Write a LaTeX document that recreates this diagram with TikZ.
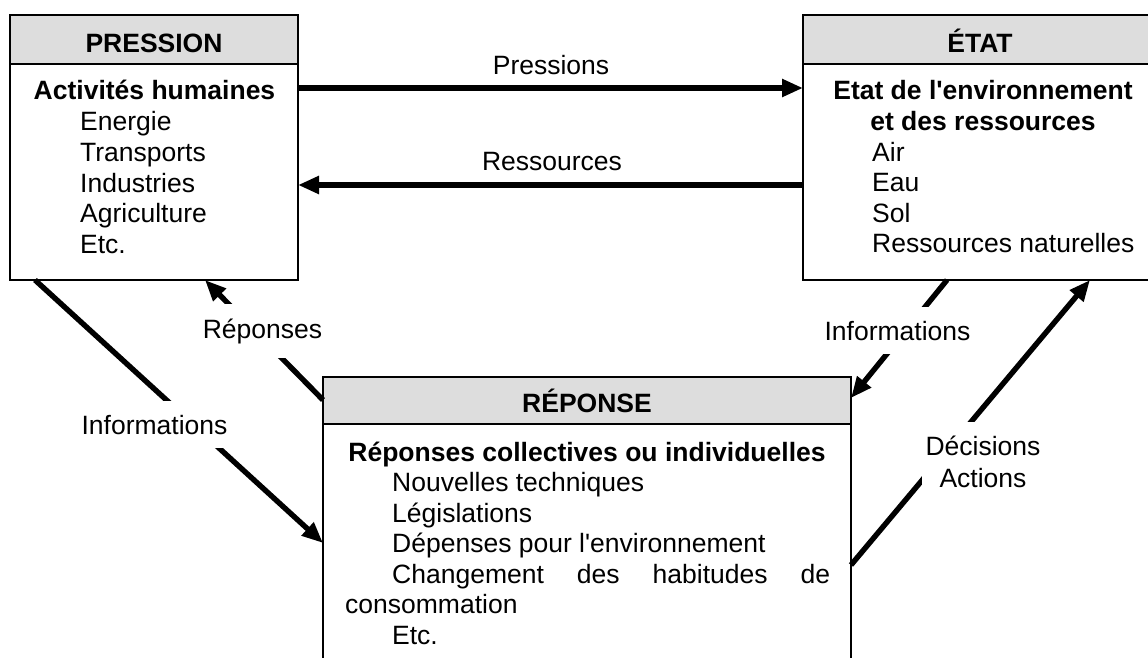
\documentclass[tikz,border=0pt]{standalone}
\usepackage{fontspec}
\setmainfont{Liberation Sans}[Ligatures=TeXOff]
\usetikzlibrary{arrows.meta}
\definecolor{headgray}{RGB}{221,221,221}
\newcommand\dfs{\fontsize{26.5pt}{30.5pt}\selectfont}
\begin{document}
\begin{tikzpicture}[x=1pt,y=-1pt,
  box/.style={draw, line width=1.6pt, rectangle, inner sep=0pt, outer sep=0pt, anchor=north west},
  headbox/.style={box, fill=headgray},
  htxt/.style={anchor=base, inner sep=0pt, font=\dfs\bfseries},
  btxt/.style={anchor=base, inner sep=0pt, font=\dfs\bfseries},
  itxt/.style={anchor=base west, inner sep=0pt, font=\dfs},
  lbl/.style={anchor=base, inner sep=0pt, font=\dfs},
  gaplbl/.style={fill=white, inner xsep=4pt, inner ysep=14pt, font=\dfs},
  arr/.style={line width=5.4pt, -{Triangle[length=21pt,width=17pt]}}
]
\useasboundingbox (0,0) rectangle (1148,658);
\clip (0,0) rectangle (1148,658);
\fill[white] (0,0) rectangle (1148,658);

% boxes
\node[box, minimum width=288pt, minimum height=265pt] (P) at (10,15) {};
\node[headbox, minimum width=288pt, minimum height=49pt] (PH) at (10,15) {};
\node[box, minimum width=354pt, minimum height=265pt] (E) at (803,15) {};
\node[headbox, minimum width=354pt, minimum height=49pt] (EH) at (803,15) {};
\node[box, minimum width=528pt, minimum height=330pt] (R) at (323,377) {};
\node[headbox, minimum width=528pt, minimum height=47pt] (RH) at (323,377) {};

% header texts
\node[htxt] (tP) at (154,53) {PRESSION};
\node[htxt] (tE) at (980,53) {ÉTAT};
\node[htxt] (tR) at (587,412) {RÉPONSE};

% left box text
\node[btxt] (p0) at (154.5,100) {Activités humaines};
\node[itxt] (p1) at (80,131) {Energie};
\node[itxt] (p2) at (80,161.5) {Transports};
\node[itxt] (p3) at (80,192) {Industries};
\node[itxt] (p4) at (80,222.5) {Agriculture};
\node[itxt] (p5) at (80,253) {Etc.};

% right box text
\node[btxt] (e0) at (983,100) {Etat de l'environnement};
\node[btxt] (e1) at (983,130.5) {et des ressources};
\node[itxt] (e2) at (872,161) {Air};
\node[itxt] (e3) at (872,191.5) {Eau};
\node[itxt] (e4) at (872,222) {Sol};
\node[itxt] (e5) at (872,252.5) {Ressources naturelles};

% bottom box text
\node[btxt] (r0) at (587,461) {Réponses collectives ou individuelles};
\node[itxt] (r1) at (392,491.5) {Nouvelles techniques};
\node[itxt] (r2) at (392,522) {Législations};
\node[itxt] (r3) at (392,552.5) {Dépenses pour l'environnement};
\node[itxt] (r4) at (392,583) {\hbox to 438pt{Changement\hfill des\hfill habitudes\hfill de}};
\node[itxt] (r5) at (345,613.5) {consommation};
\node[itxt] (r6) at (392,644) {Etc.};

% connectors
\draw[arr] (P.east |- 0,88) -- (E.west |- 0,88);
\draw[arr] (E.west |- 0,185) -- (P.east |- 0,185);
\draw[arr] (35,0 |- P.south) -- (R.west |- 0,543);
\draw[arr] (R.west |- 0,400) -- (205,0 |- P.south);
\draw[arr] (947,0 |- E.south) -- (R.east |- 0,398);
\draw[arr] (R.east |- 0,565) -- (1090,0 |- E.south);

% labels
\node[lbl] (lPress) at (551,75) {Pressions};
\node[lbl] (lRess) at (552,170) {Ressources};
\node[gaplbl, anchor=base] (lInfL) at (154.5,434) {Informations};
\node[gaplbl, anchor=base] (lRep) at (262.5,338) {Réponses};
\node[gaplbl, anchor=base] (lInfR) at (897.5,340) {Informations};
\node[gaplbl, align=center, anchor=center] (lDec) at (983,461.5) {Décisions\\[1.5pt]Actions};
\end{tikzpicture}
\end{document}
